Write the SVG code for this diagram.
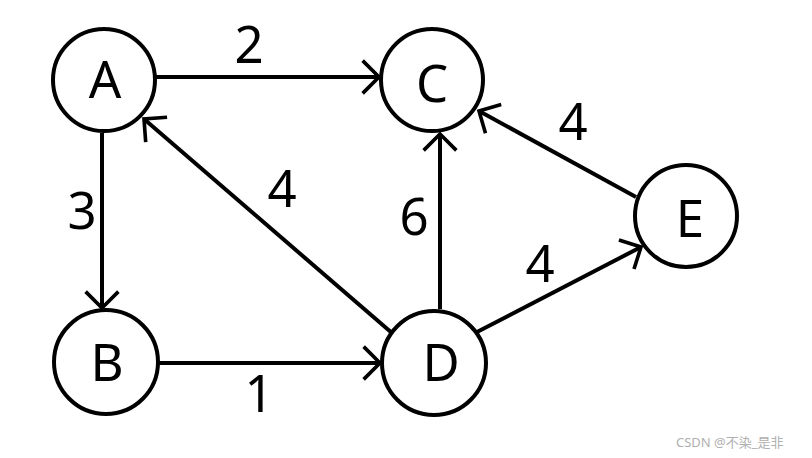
<svg xmlns="http://www.w3.org/2000/svg" width="812" height="458" viewBox="0 0 812 458">
<style>
.node{fill:#fff;stroke:#000;stroke-width:4}
.lbl{font-family:"Noto Sans","Liberation Sans",sans-serif;font-size:51px;fill:#000;text-anchor:middle}
.edge{stroke:#000;stroke-width:4;fill:none;marker-end:url(#arr)}
.wm{font-family:"Noto Sans","Noto Sans CJK SC",sans-serif;font-size:13px;fill:#b0b0b0}
</style>
<defs>
<marker id="arr" markerUnits="userSpaceOnUse" markerWidth="40" markerHeight="40" refX="0" refY="0" viewBox="-22 -22 26 44" orient="auto" overflow="visible">
<path d="M-18,-18 L0,0 L-18,18" fill="none" stroke="#000" stroke-width="4"/>
</marker>
</defs>
<rect width="812" height="458" fill="#fff"/>
<g id="edges">
<line class="edge" x1="156" y1="77" x2="379" y2="77"/>
<line class="edge" x1="102" y1="133" x2="102" y2="308"/>
<line class="edge" x1="159" y1="363" x2="380" y2="363"/>
<line class="edge" x1="392" y1="333" x2="144" y2="119"/>
<line class="edge" x1="440" y1="309" x2="440" y2="134"/>
<line class="edge" x1="477" y1="332" x2="641" y2="247"/>
<line class="edge" x1="636" y1="197" x2="479" y2="111"/>
<text class="lbl" x="249" y="63">2</text>
<text class="lbl" x="82" y="229">3</text>
<text class="lbl" x="259" y="412">1</text>
<text class="lbl" x="282" y="207">4</text>
<text class="lbl" x="414" y="235">6</text>
<text class="lbl" x="540" y="282">4</text>
<text class="lbl" x="573" y="140">4</text>
</g>
<g id="A"><circle class="node" cx="104" cy="80" r="51"/><text class="lbl" x="105" y="98">A</text></g>
<g id="C"><circle class="node" cx="432" cy="80" r="51"/><text class="lbl" x="432" y="102">C</text></g>
<g id="B"><circle class="node" cx="106" cy="362" r="52"/><text class="lbl" x="107" y="381">B</text></g>
<g id="D"><circle class="node" cx="434" cy="363" r="52"/><text class="lbl" x="441" y="381">D</text></g>
<g id="E"><circle class="node" cx="686" cy="216" r="51"/><text class="lbl" x="690" y="237">E</text></g>
<text class="wm" x="676" y="447">CSDN @不染_是非</text>
</svg>
